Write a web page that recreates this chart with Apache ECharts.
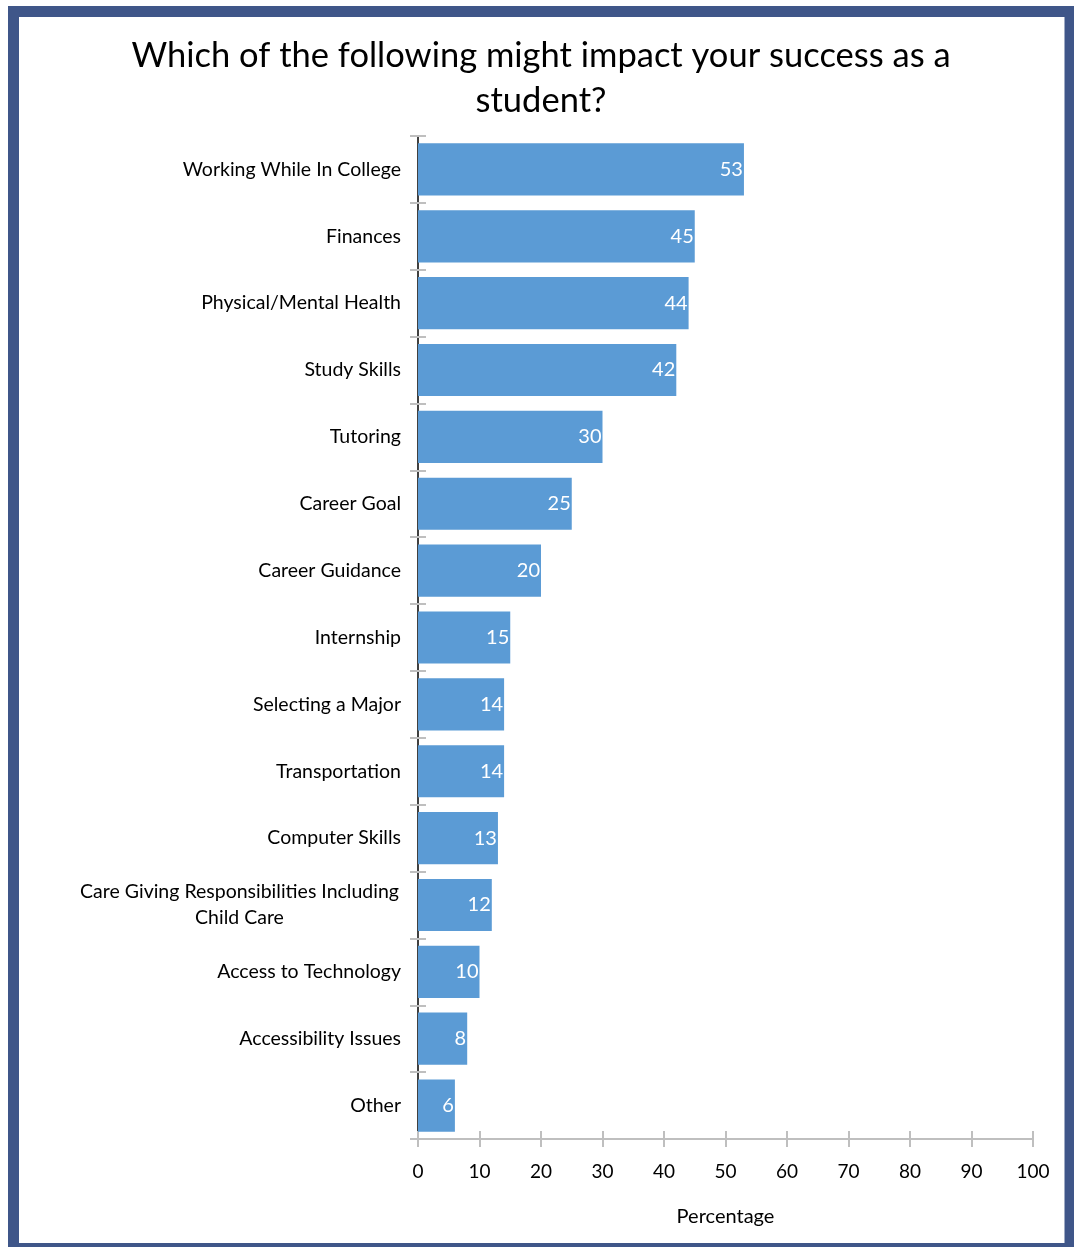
<!DOCTYPE html>
<html>
<head>
<meta charset="utf-8">
<style>
  html, body { margin: 0; padding: 0; background: #ffffff; }
  #chart { width: 1074px; height: 1247px; }
</style>
<script src="https://cdn.jsdelivr.net/npm/echarts@6/dist/echarts.min.js"></script>
</head>
<body>
<div id="chart"></div>
<script>
// Survey factors, top to bottom as listed
const categories = [
  'Working While In College',
  'Finances',
  'Physical/Mental Health',
  'Study Skills',
  'Tutoring',
  'Career Goal',
  'Career Guidance',
  'Internship',
  'Selecting a Major',
  'Transportation',
  'Computer Skills',
  'Care Giving Responsibilities Including\nChild Care',
  'Access to Technology',
  'Accessibility Issues',
  'Other'
];
// Percentage of respondents choosing each factor
const percentages = [53, 45, 44, 42, 30, 25, 20, 15, 14, 14, 13, 12, 10, 8, 6];
// Horizontal axis range and step
const axisMin = 0;
const axisMax = 100;
const axisStep = 10;

const FONT = 'Lato';
const tickGray = '#bfbfbf';

const chart = echarts.init(document.getElementById('chart'), null, { renderer: 'canvas' });

// Wrapped labels keep their lines centred on each other
function categoryLabel(v) {
  if (v.indexOf('\n') < 0) return v;
  return v.split('\n').map(s => '{c|' + s + '}').join('\n');
}

chart.setOption({
  backgroundColor: '#ffffff',
  animation: false,
  textStyle: { fontFamily: FONT },
  graphic: [{
    type: 'text',
    silent: true,
    x: 541,
    y: 33,
    style: {
      text: 'Which of the following might impact your success as a\nstudent?',
      align: 'center',
      verticalAlign: 'top',
      font: '34.5px ' + FONT,
      fill: '#000000',
      lineHeight: 45
    }
  }, {
    type: 'rect',
    silent: true,
    shape: { x: 13.5, y: 11.5, width: 1056.5, height: 1237 },
    style: { fill: 'none', stroke: '#3f5689', lineWidth: 11 },
    z: 100
  }],
  grid: { left: 418, right: 41, top: 136, bottom: 108, containLabel: false },
  xAxis: [{
    type: 'value',
    min: axisMin,
    max: axisMax,
    interval: axisStep,
    name: 'Percentage',
    nameLocation: 'middle',
    nameGap: 68,
    nameTextStyle: { fontFamily: FONT, fontSize: 20, color: '#000000' },
    axisLine: { show: true, lineStyle: { color: tickGray, width: 2 } },
    axisTick: { show: true, length: 8, lineStyle: { color: tickGray, width: 2 } },
    axisLabel: { fontFamily: FONT, fontSize: 19, color: '#000000', margin: 23 },
    splitLine: { show: false }
  }, {
    // inner half of the crossing tick marks
    type: 'value',
    position: 'bottom',
    min: axisMin,
    max: axisMax,
    interval: axisStep,
    axisLine: { show: false },
    axisTick: { show: true, inside: true, length: 8, lineStyle: { color: tickGray, width: 2 } },
    axisLabel: { show: false },
    splitLine: { show: false }
  }],
  yAxis: [{
    type: 'category',
    data: categories,
    inverse: true,
    axisLine: { show: true, lineStyle: { color: '#404040', width: 2 } },
    axisTick: { show: true, length: 8, lineStyle: { color: tickGray, width: 2 } },
    axisLabel: {
      fontFamily: FONT,
      fontSize: 19.5,
      color: '#000000',
      margin: 17,
      lineHeight: 26,
      align: 'right',
      formatter: categoryLabel,
      rich: {
        c: { width: 323, align: 'center', fontFamily: FONT, fontSize: 19.5, color: '#000000', lineHeight: 26 }
      }
    },
    splitLine: { show: false }
  }, {
    // inner half of the crossing tick marks
    type: 'category',
    data: categories,
    inverse: true,
    position: 'left',
    axisLine: { show: false },
    axisTick: { show: true, inside: true, length: 8, lineStyle: { color: tickGray, width: 2 } },
    axisLabel: { show: false },
    splitLine: { show: false }
  }],
  series: [{
    type: 'bar',
    data: percentages,
    xAxisIndex: 0,
    yAxisIndex: 0,
    barCategoryGap: '22%',
    itemStyle: { color: '#5b9bd5' },
    label: {
      show: true,
      position: 'insideRight',
      distance: 1,
      color: '#ffffff',
      fontFamily: FONT,
      fontSize: 20
    },
    z: 2
  }]
});
</script>
</body>
</html>
